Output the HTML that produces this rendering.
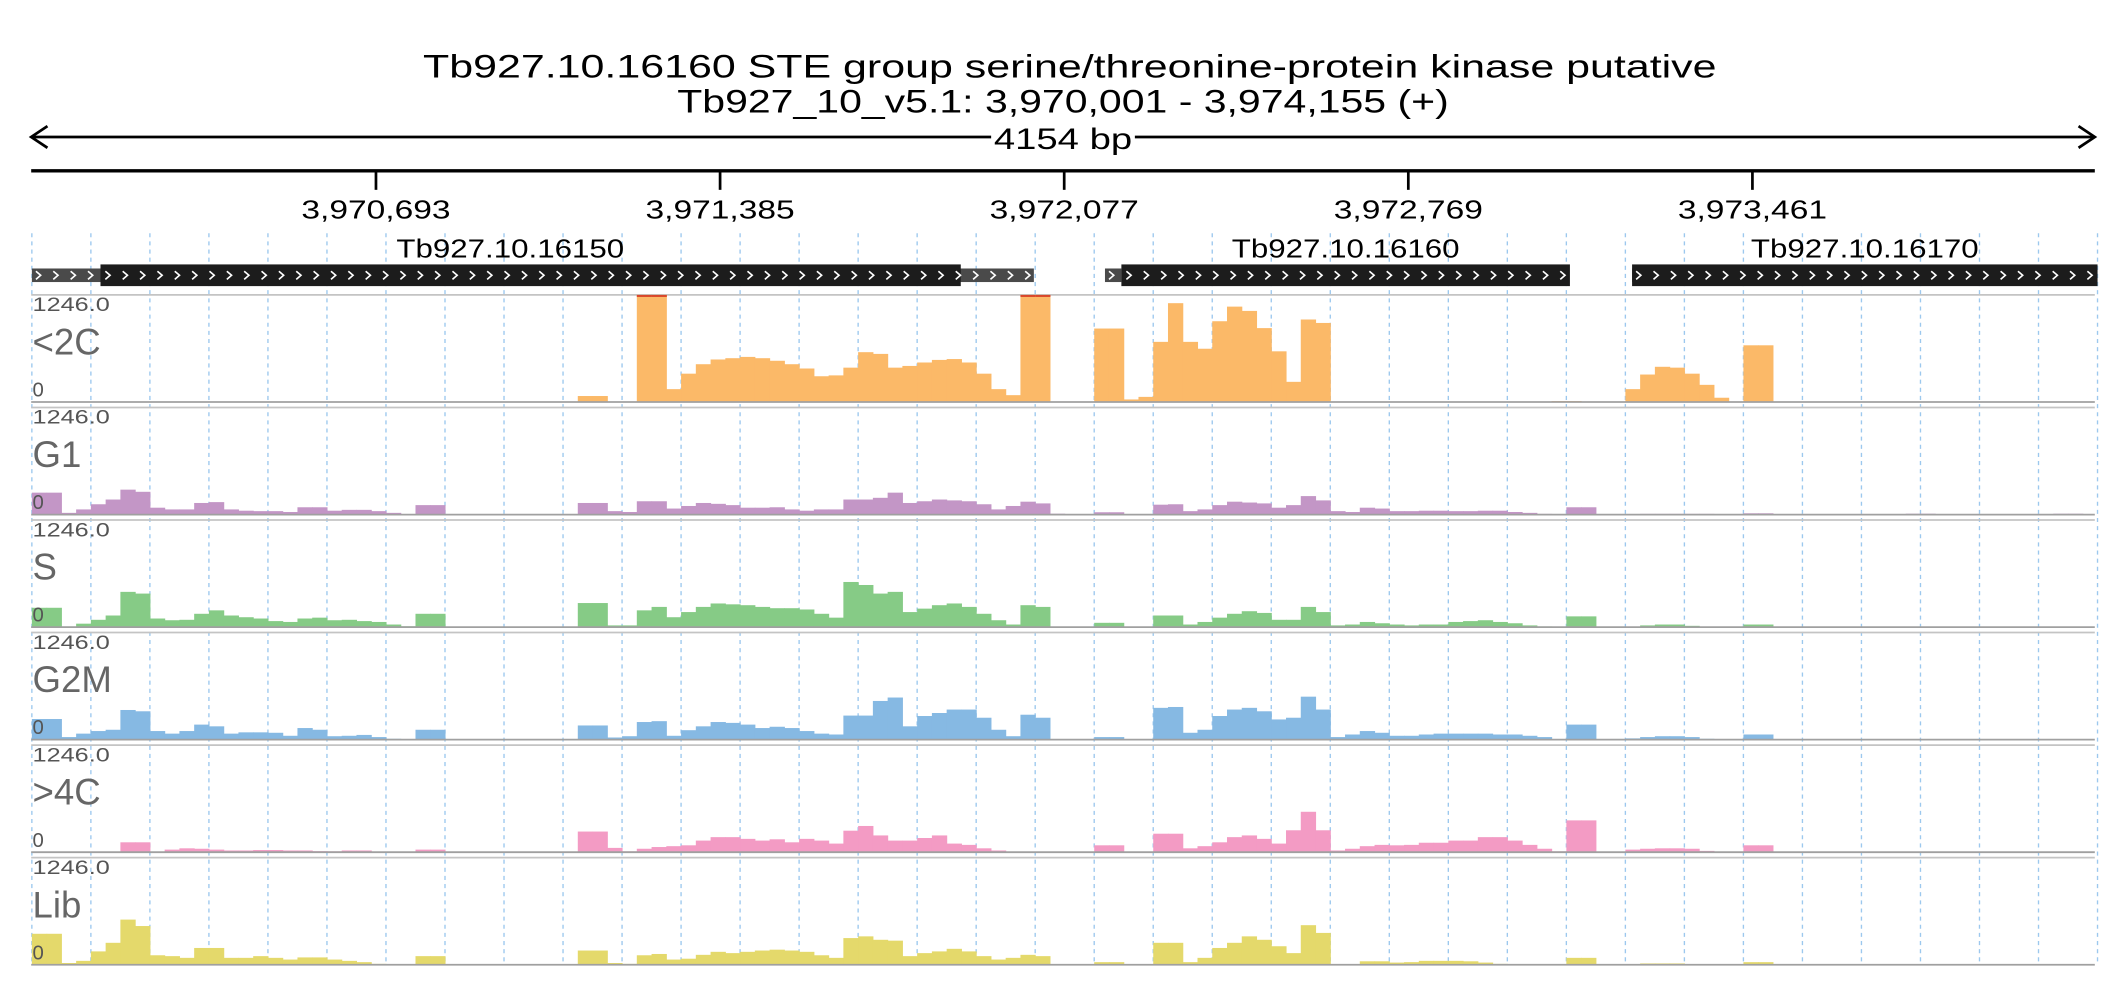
<!DOCTYPE html>
<html><head><meta charset="utf-8"><style>
html,body{margin:0;padding:0;background:#fff;}
svg{display:block;font-family:"Liberation Sans",sans-serif;}
</style></head><body>
<svg id="chart" width="2126" height="1000" viewBox="0 0 1568 737.5" xmlns="http://www.w3.org/2000/svg">
<rect width="1568" height="737.5" fill="#fff"/>
<text x="789" y="57" font-size="24" text-anchor="middle" textLength="954" lengthAdjust="spacingAndGlyphs">Tb927.10.16160  STE group serine/threonine-protein kinase  putative</text>
<text x="784" y="83" font-size="24" text-anchor="middle" textLength="569" lengthAdjust="spacingAndGlyphs">Tb927_10_v5.1: 3,970,001 - 3,974,155 (+)</text>
<g id="ruler">
<line x1="23" y1="101" x2="1545" y2="101" stroke="#000" stroke-width="2"/>
<polyline points="35,93 23,101 35,109" fill="none" stroke="#000" stroke-width="2"/>
<polyline points="1533,93 1545,101 1533,109" fill="none" stroke="#000" stroke-width="2"/>
<rect x="731" y="90" width="106" height="22" fill="#fff"/>
<text x="784" y="110" font-size="22" text-anchor="middle" textLength="102" lengthAdjust="spacingAndGlyphs">4154 bp</text>
</g>
<g id="axis"></g>
<g id="grid"></g>
<g id="genes"></g>
<g id="tracks"></g>
</svg>
<script>
const regionStart = 3970001;
const regionLen = 4154;
const tickPositions = [3970693, 3971385, 3972077, 3972769, 3973461];
const trackNames = ["<2C", "G1", "S", "G2M", ">4C", "Lib"];
const trackMax = 1246;
const geneNames = ["Tb927.10.16150", "Tb927.10.16160", "Tb927.10.16170"];
const geneUtrStart = [0, 2158, 3218];
const geneUtrEnd = [2015, 2191, 4154];
const geneCdsStart = [138, 2191, 3218];
const geneCdsEnd = [1868, 3093, 4154];
const binCount = 140;
const covLt2C = [0,0,0,0,0,0,0,0,0,0, 0,0,0,0,0,0,0,0,0,0, 0,0,0,0,0,0,0,0,0,0, 0,0,0,0,0,0,0,70,70,0,
 0,1246,1246,150,330,440,495,510,525,510, 480,440,390,300,310,400,580,560,400,420, 460,490,500,460,330,150,80,1246,1246,0,
 0,0,855,855,30,60,700,1150,700,620, 940,1110,1060,860,590,235,960,920,0,0, 0,0,0,0,0,0,0,0,0,0,
 0,0,0,12,12,0,0,0,150,320, 410,400,330,200,50,0,660,660,0,0, 0,0,0,0,0,0,0,0,0,0, 0,0,0,0,0,0,0,0,0];
const covG1 = [255,255,20,60,120,175,290,265,80,60, 60,135,145,60,45,40,40,30,85,85, 45,55,55,40,20,5,110,110,0,0, 0,0,0,0,0,0,0,135,135,40,
 30,155,155,70,100,135,125,110,80,80, 85,60,45,60,60,175,175,195,255,135, 155,175,165,155,120,60,100,150,130,10,
 0,0,27,27,5,5,115,120,40,60, 110,150,140,130,80,110,215,165,40,30, 80,70,40,40,45,45,40,40,45,45,
 30,20,8,0,85,85,0,0,0,8, 8,8,8,8,0,0,15,15,0,0, 0,0,0,0,0,0,0,10,10,0, 0,0,0,0,0,0,0,10,10];
const covS = [225,225,8,40,85,135,410,390,100,80, 85,155,195,135,115,100,70,60,100,110, 80,85,70,60,30,10,155,155,0,0, 0,0,0,0,0,0,0,280,280,20,
 20,195,235,115,175,235,275,265,255,235, 220,220,205,155,110,525,490,390,410,175, 215,255,275,235,155,80,30,255,235,5,
 0,0,50,50,3,3,135,135,30,60, 110,155,185,165,85,85,235,175,20,30, 60,45,30,20,30,30,60,70,80,60,
 45,20,8,5,125,125,0,2,2,20, 30,30,15,3,0,0,30,30,0,0, 0,0,0,0,0,0,0,0,0,0, 0,0,0,0,0,0,0,0,0];
const covG2M = [240,240,30,70,100,115,345,330,100,70, 100,175,155,70,85,85,80,45,135,115, 40,45,55,30,10,5,115,115,0,0, 0,0,0,0,0,0,0,165,165,25,
 40,205,215,45,110,155,205,195,175,135, 150,135,100,70,60,280,280,450,490,155, 275,310,350,350,255,115,40,290,255,0,
 0,0,30,30,0,0,370,380,80,115, 275,350,370,330,235,255,500,350,30,60, 100,80,45,45,60,70,70,70,70,60,
 60,45,30,5,175,175,0,8,15,30, 40,40,30,10,0,0,60,60,3,3, 2,2,2,2,2,2,2,2,2,2, 2,2,2,2,2,2,2,2,2];
const covGt4C = [0,0,0,0,0,0,115,115,8,30, 45,40,30,20,20,25,25,20,20,12, 10,20,20,8,0,0,30,30,0,0, 0,0,0,0,0,0,0,240,240,50,
 10,40,60,70,80,135,175,175,155,135, 150,115,155,135,100,250,305,195,135,135, 165,195,100,85,45,20,8,0,0,0,
 0,0,80,80,0,3,215,215,45,70, 115,175,195,155,100,255,470,255,20,40, 70,85,80,85,110,110,135,135,175,175,
 135,85,40,10,370,370,0,5,30,40, 45,45,40,15,0,0,80,80,0,0, 0,0,0,0,0,0,0,0,0,0, 0,0,0,0,0,0,0,0,0];
const covLib = [360,360,20,45,155,255,525,450,110,100, 80,195,195,80,80,100,80,60,85,85, 60,45,30,10,3,0,100,100,0,0, 0,0,0,0,0,0,0,165,165,20,
 10,110,125,60,70,115,150,135,150,165, 175,165,150,110,80,310,330,290,280,100, 135,155,185,155,100,60,80,115,100,0,
 0,0,30,30,0,2,255,255,30,80, 195,255,330,290,215,135,460,370,3,2, 40,40,25,30,45,45,45,40,25,10,
 5,0,0,0,80,80,0,0,5,15, 15,15,8,0,0,0,30,30,0,0, 0,0,0,0,0,0,0,5,5,0, 0,0,0,0,0,0,0,5,5];

const series = [covLt2C, covG1, covS, covG2M, covGt4C, covLib];
const colors = ["#fbb968", "#c396c6", "#86cb86", "#86b9e3", "#f39bc4", "#e4d96b"];
const NS = "http://www.w3.org/2000/svg";
const X0 = 23.5, X1 = 1547;
function x(bp){ return X0 + bp / regionLen * (X1 - X0); }
function xPos(pos){ return x(pos - regionStart); }
function el(tag, attrs, parent){ const e = document.createElementNS(NS, tag); for (const k in attrs) e.setAttribute(k, attrs[k]); parent.appendChild(e); return e; }

// axis
const axis = document.getElementById('axis');
el('line', {x1:23, y1:126, x2:1545, y2:126, stroke:'#000', 'stroke-width':2.5}, axis);
tickPositions.forEach(p => {
  const tx = xPos(p);
  const t = el('line', {x1:tx, y1:126, x2:tx, y2:140, stroke:'#000', 'stroke-width':2}, axis);
  
  
  const lb = el('text', {x:tx, y:161, 'font-size':19, 'text-anchor':'middle', textLength:110, lengthAdjust:'spacingAndGlyphs'}, axis);
  lb.textContent = p.toLocaleString('en-US');
  
  
});

// grid
const grid = document.getElementById('grid');
for (let i = 0; i <= 35; i++) {
  const gx = x(regionLen * i / 35);
  const g = el('line', {x1:gx, y1:172, x2:gx, y2:712, stroke:'#9cc8ee', 'stroke-width':1, 'stroke-dasharray':'3,3'}, grid);
  
  
}

// genes
const genes = document.getElementById('genes');
geneNames.forEach((name, gi) => {
  const grp = el('g', {}, genes);
  
  
  const ux0 = x(geneUtrStart[gi]), ux1 = x(geneUtrEnd[gi]);
  el('rect', {x:ux0, y:198, width:ux1-ux0, height:10, fill:'#4a4a4a'}, grp);
  const cx0 = x(geneCdsStart[gi]), cx1 = x(geneCdsEnd[gi]);
  el('rect', {x:cx0, y:195, width:cx1-cx0, height:16, fill:'#1c1c1c'}, grp);
  const sx = Math.min(ux0, cx0), ex = Math.max(ux1, cx1);
  for (let cx = sx + 3; cx < ex - 6; cx += 12.8) {
    el('polyline', {points:(cx)+',200 '+(cx+3.5)+',203 '+(cx)+',206', fill:'none', stroke:'#fff', 'stroke-width':1.2}, grp);
  }
  const lb = el('text', {x:(cx0+cx1)/2 + (gi===0?-15:0), y:190, 'font-size':19, 'text-anchor':'middle', textLength:168, lengthAdjust:'spacingAndGlyphs'}, grp);
  lb.textContent = name;
  
  
});

// tracks
const tracks = document.getElementById('tracks');
const H = 79;
const binW = (X1 - X0) / binCount;
trackNames.forEach((name, ti) => {
  const top = 217.5 + ti * 83;
  const base = top + H;
  const grp = el('g', {}, tracks);
  
  
  el('line', {x1:23, y1:top, x2:1545, y2:top, stroke:'#c4c4c4', 'stroke-width':1.3}, grp);
  const vals = series[ti];
  vals.forEach((v, i) => {
    if (v <= 0) return;
    const h = Math.min(v, trackMax) / trackMax * H;
    const bx = x(i * regionLen / binCount);
    const r = el('rect', {x:bx, y:base-h, width:binW+0.4, height:h, fill:colors[ti]}, grp);
    
    
    if (v >= trackMax) el('rect', {x:bx, y:top, width:binW+0.4, height:1.5, fill:'#d9472b'}, grp);
  });
  el('line', {x1:23, y1:base, x2:1545, y2:base, stroke:'#a0a0a0', 'stroke-width':1.3}, grp);
  const mx = el('text', {x:24, y:top+12, 'font-size':14.5, fill:'#555', textLength:57, lengthAdjust:'spacingAndGlyphs'}, grp);
  mx.textContent = '1246.0';
  
  
  const nm = el('text', {x:24, y:top+44, 'font-size':27, fill:'#666'}, grp);
  nm.textContent = name;
  
  
  const z = el('text', {x:24, y:base-4, 'font-size':15, fill:'#555'}, grp);
  z.textContent = '0';
  
  
});
</script>
</body></html>
